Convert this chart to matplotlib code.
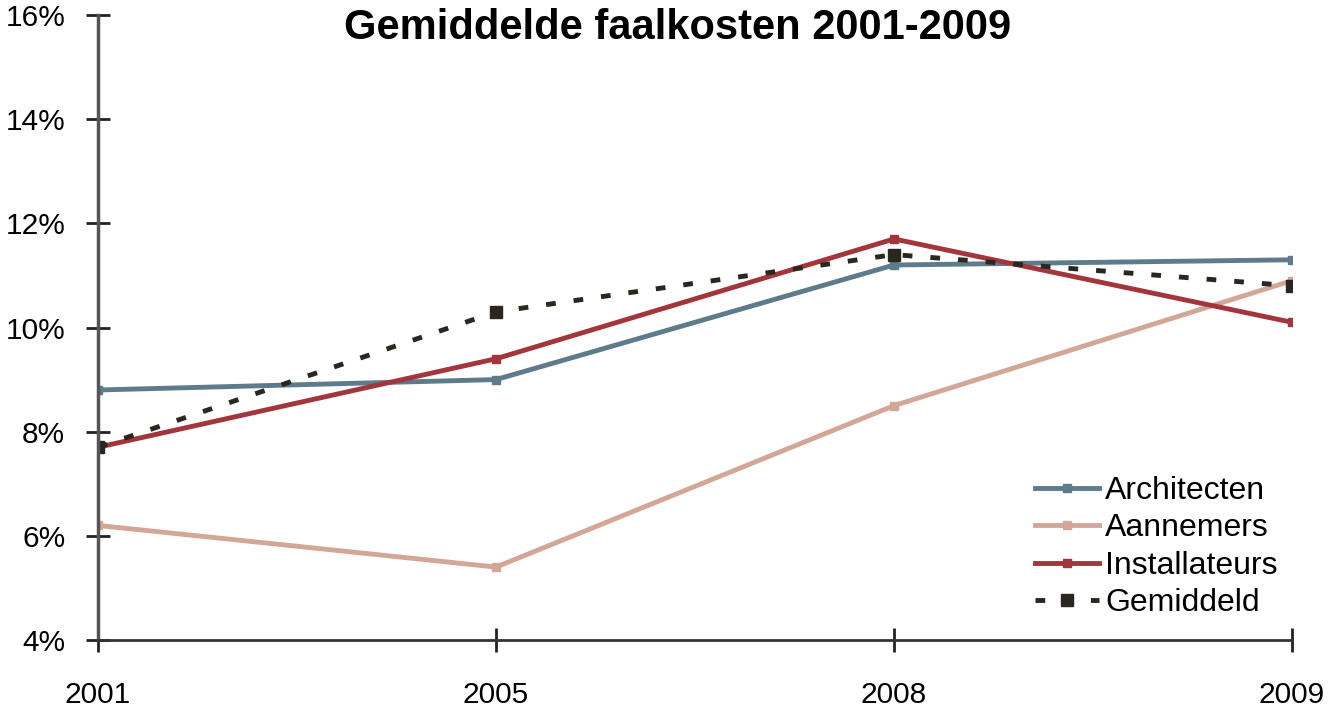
import matplotlib
matplotlib.use("Agg")
import matplotlib.pyplot as plt
from matplotlib.ticker import FuncFormatter

years = ["2001", "2005", "2008", "2009"]
architecten = [8.8, 9.0, 11.2, 11.3]
aannemers = [6.2, 5.4, 8.5, 10.9]
installateurs = [7.7, 9.4, 11.7, 10.1]
gemiddeld = [7.7, 10.3, 11.4, 10.8]

plt.rcParams['font.family'] = ['Liberation Sans', 'DejaVu Sans']

fig = plt.figure(figsize=(13.29, 7.09), dpi=100)
ax = fig.add_axes([98/1329, 1-640/709, (1292-98)/1329, (640-15)/709])

x = list(range(len(years)))
ax.plot(x, architecten, color='#5d7b8b', lw=3.5, marker='s', ms=6, label='Architecten')
ax.plot(x, aannemers, color='#d3a797', lw=3.5, marker='s', ms=6, label='Aannemers')
ax.plot(x, installateurs, color='#a2363c', lw=3.5, marker='s', ms=6, label='Installateurs')
ax.plot(x, gemiddeld, color='#2a2620', lw=3.5, ls=(0, (2, 3.7)), marker='s', ms=8, label='Gemiddeld')

ax.set_xlim(0, len(years)-1)
ax.set_ylim(4, 16)
ax.set_yticks([4, 6, 8, 10, 12, 14, 16])
ax.yaxis.set_major_formatter(FuncFormatter(lambda v, p: f"{v:.0f}%"))
ax.set_xticks(x)
ax.set_xticklabels(years)

for s in ['top', 'right']:
    ax.spines[s].set_visible(False)
ax.spines['left'].set_color('#555555')
ax.spines['left'].set_linewidth(2.5)
ax.spines['bottom'].set_color('#333333')
ax.spines['bottom'].set_linewidth(2)
ax.tick_params(axis='y', direction='inout', length=17, width=2, color='#222222', labelsize=21.5, pad=15)
ax.tick_params(axis='x', direction='inout', length=17, width=2, color='#222222', labelsize=21.5, pad=21)

fig.text(678/1329, 1-28/709, "Gemiddelde faalkosten 2001-2009", ha='center', va='center',
         fontsize=30, fontweight='bold')

leg = ax.legend(loc='upper left', bbox_to_anchor=(1035/1329, 1-476/709),
                bbox_transform=fig.transFigure, frameon=False, fontsize=23,
                handlelength=2.0, handletextpad=0.2, labelspacing=0.23,
                borderaxespad=0, borderpad=0)

fig.savefig("out.png", dpi=100)
